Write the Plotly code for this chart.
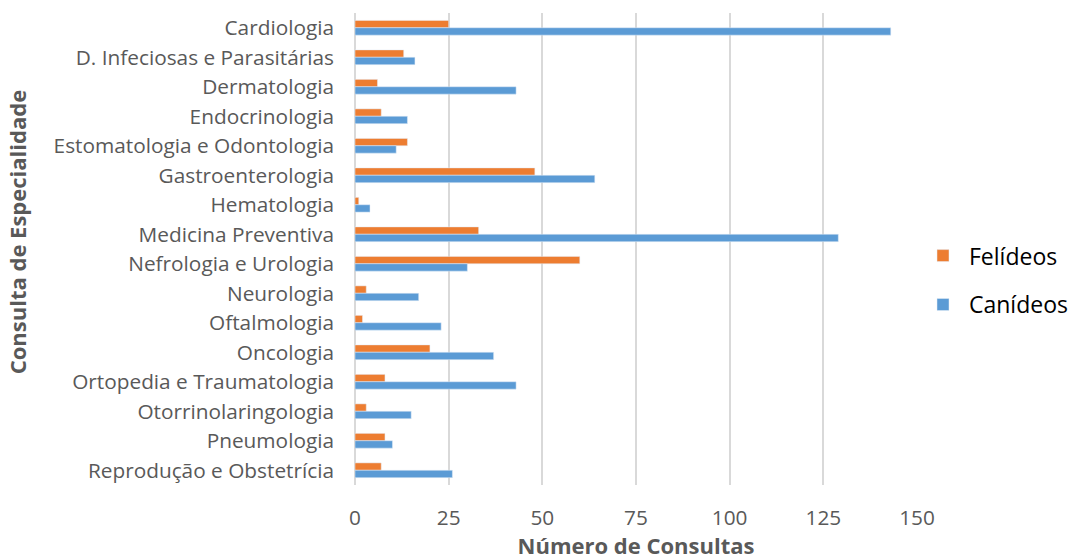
import plotly.graph_objects as go

categorias = [
    "Cardiologia",
    "D. Infeciosas e Parasitárias",
    "Dermatologia",
    "Endocrinologia",
    "Estomatologia e Odontologia",
    "Gastroenterologia",
    "Hematologia",
    "Medicina Preventiva",
    "Nefrologia e Urologia",
    "Neurologia",
    "Oftalmologia",
    "Oncologia",
    "Ortopedia e Traumatologia",
    "Otorrinolaringologia",
    "Pneumologia",
    "Reprodução e Obstetrícia",
]
felideos = [25, 13, 6, 7, 14, 48, 1, 33, 60, 3, 2, 20, 8, 3, 8, 7]
canideos = [143, 16, 43, 14, 11, 64, 4, 129, 30, 17, 23, 37, 43, 15, 10, 26]
ticks_x = [0, 25, 50, 75, 100, 125, 150]

FONT = "Open Sans"
GREY = "#595959"

fig = go.Figure()
fig.add_trace(go.Bar(
    y=categorias, x=felideos, orientation="h", name="Felídeos",
    marker=dict(color="#ED7D31"), legendgroup="f",
))
fig.add_trace(go.Bar(
    y=categorias, x=canideos, orientation="h", name="Canídeos",
    marker=dict(color="#5B9BD5"), legendgroup="c",
))

fig.update_layout(
    width=1069, height=560,
    margin=dict(l=355, r=152, t=13, b=75, autoexpand=False),
    paper_bgcolor="white", plot_bgcolor="white",
    barmode="group", bargap=0.5, bargroupgap=0,
    font=dict(family=FONT, size=20.8, color=GREY),
    legend=dict(
        x=1.0, y=0.434, xanchor="left", yanchor="middle",
        font=dict(size=23, color="#000000"),
        tracegroupgap=16, traceorder="grouped", itemwidth=42,
    ),
    annotations=[dict(
        text="<b>Consulta de Especialidade</b>", textangle=-90,
        xref="paper", yref="paper", x=-0.6, y=0.535,
        xanchor="center", yanchor="middle", showarrow=False,
        font=dict(size=22, color=GREY),
    )],
)
fig.update_xaxes(
    range=[0, 150], tickvals=ticks_x, showgrid=True, gridcolor="#D9D9D9",
    gridwidth=1.5, zeroline=True, zerolinecolor="#D9D9D9", zerolinewidth=1.5,
    showline=False, ticks="", ticklabelstandoff=18,
    tickfont=dict(size=20.8, color=GREY),
    title=dict(text="<b>Número de Consultas</b>", standoff=8,
               font=dict(size=22, color=GREY)),
)
fig.update_yaxes(
    categoryorder="array", categoryarray=categorias, autorange="reversed",
    showgrid=False, showline=False, ticks="", ticklabelstandoff=20,
    tickfont=dict(size=20.8, color=GREY),
)

fig.write_html("out.html")
